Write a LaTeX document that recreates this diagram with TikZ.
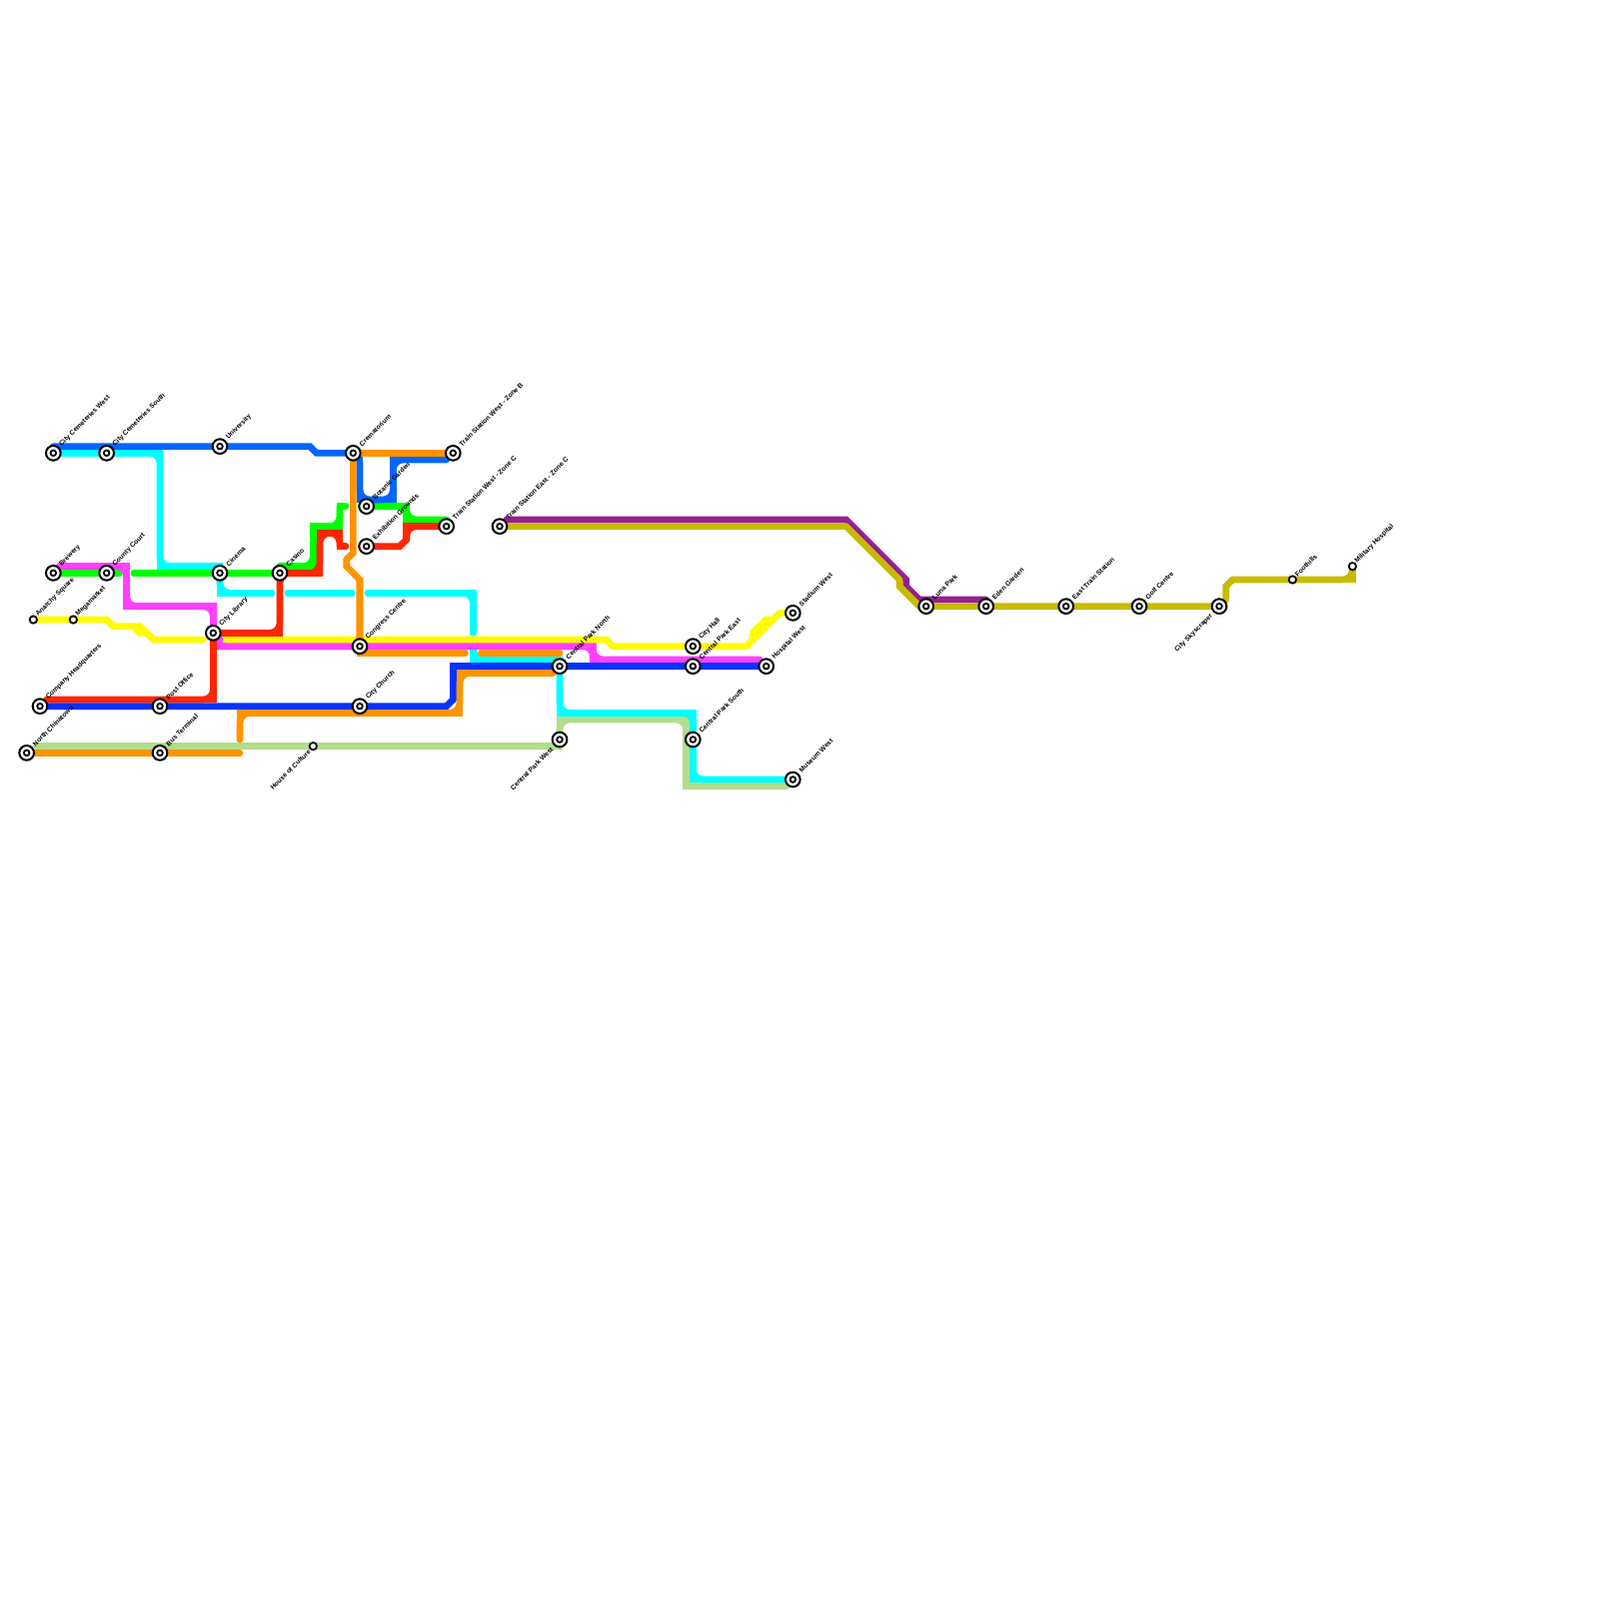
\documentclass[tikz,border=0pt]{standalone}
\usepackage{fontspec}
\setmainfont{Liberation Sans}
\definecolor{ldodger}{HTML}{0066FF}
\definecolor{lcyan}{HTML}{00FFFF}
\definecolor{lgreen}{HTML}{00FF00}
\definecolor{lmag}{HTML}{FF40FF}
\definecolor{lyellow}{HTML}{FFFB00}
\definecolor{lred}{HTML}{FF2600}
\definecolor{lblue}{HTML}{0433FF}
\definecolor{lorange}{HTML}{FF9300}
\definecolor{lpale}{HTML}{B1DD8C}
\definecolor{lpurple}{HTML}{942192}
\definecolor{lolive}{HTML}{C7BB00}
\tikzset{
  mt/.style={line width=1mm,line cap=round,line join=miter,miter limit=10},
  lbl/.style={font=\fontsize{2.85}{3}\bfseries,inner sep=0pt,rotate=45,text=black},
  bigst/.style={circle,fill=white,draw=black,line width=0.3mm,minimum size=2.2mm,inner sep=0pt,
    path picture={\draw[black,line width=0.27mm] (path picture bounding box.center) circle (0.42mm);}},
  smallst/.style={circle,fill=white,draw=black,line width=0.27mm,minimum size=1.1mm,inner sep=0pt},
}
% sharp line, and a line with cut inside corners
\newcommand\sline[2]{\draw[mt,draw=#1] #2;}
\newcommand\mline[2]{\draw[mt,draw=#1] #2; \draw[mt,draw=#1,rounded corners=1.5mm] #2;}
% station macros: name, position, label
\newcommand\bst[3]{\node[bigst] (#1) at #2 {}; \node[lbl,anchor=west] (#1-l) at ([xshift=1.05mm,yshift=1.15mm]#1.center) {#3};}
\newcommand\bstl[3]{\node[bigst] (#1) at #2 {}; \node[lbl,anchor=east] (#1-l) at ([xshift=-1.1mm,yshift=-1.3mm]#1.center) {#3};}
\newcommand\sst[3]{\node[smallst] (#1) at #2 {}; \node[lbl,anchor=west] (#1-l) at ([xshift=.5mm,yshift=.6mm]#1.center) {#3};}
\newcommand\sstl[3]{\node[smallst] (#1) at #2 {}; \node[lbl,anchor=east] (#1-l) at ([xshift=-.5mm,yshift=-.6mm]#1.center) {#3};}
\begin{document}
\begin{tikzpicture}[x=1mm,y=-1mm]
\useasboundingbox (0,0) rectangle (240,240);
\fill[white] (0,0) rectangle (240,240);
% station positions first, so lines can refer to them
\coordinate (ccw) at (8,68);
\coordinate (ccs) at (16,68);
\coordinate (univ) at (33,67);
\coordinate (crem) at (53,68);
\coordinate (tswb) at (68,68);
\coordinate (botg) at (55,76);
\coordinate (exhg) at (55,82);
\coordinate (tswc) at (67,79);
\coordinate (tsec) at (75,79);
\coordinate (casino) at (42,86);
\coordinate (cinema) at (33,86);
\coordinate (county) at (16,86);
\coordinate (brew) at (8,86);
\coordinate (anarchy) at (5,93);
\coordinate (mega) at (11,93);
\coordinate (clib) at (32,95);
\coordinate (cong) at (54,97);
\coordinate (chq) at (6,106);
\coordinate (post) at (24,106);
\coordinate (church) at (54,106);
\coordinate (nchina) at (4,113);
\coordinate (busT) at (24,113);
\coordinate (house) at (47,112);
\coordinate (cpw) at (84,111);
\coordinate (cpn) at (84,100);
\coordinate (chall) at (104,97);
\coordinate (cpe) at (104,100);
\coordinate (hosp) at (115,100);
\coordinate (stad) at (119,92);
\coordinate (cps) at (104,111);
\coordinate (mus) at (119,117);
\coordinate (luna) at (139,91);
\coordinate (eden) at (148,91);
\coordinate (east) at (160,91);
\coordinate (golf) at (171,91);
\coordinate (sky) at (183,91);
\coordinate (foot) at (194,87);
\coordinate (milit) at (203,85);
% pale green
\mline{lpale}{(5.5,112) -- (84,112) -- (84,108) -- (103,108) -- (103,118) -- (118,118)}
% cyan
\mline{lcyan}{(ccw) -- (24,68) -- (24,85) -- (33,85) -- (33,89) -- (40.8,89)}
\mline{lcyan}{(43.2,89) -- (52.8,89)}
\mline{lcyan}{(55.2,89) -- (71,89) -- (71,95)}
\mline{lcyan}{(71,97) -- (71,99) -- (84,99) -- (cpn) -- (84,107) -- (104,107) -- (104,117) -- (mus)}
% green
\mline{lgreen}{(brew) -- (17.9,86)}
\mline{lgreen}{(20.1,86) -- (casino)}
\mline{lgreen}{(42,85) -- (47,85) -- (47,79) -- (51,79) -- (51,76)}
\sline{lgreen}{(51,77) -- (51,76) -- (51.9,76)}
\mline{lgreen}{(54.2,76) -- (61,76) -- (61,78) -- (67,78)}
% dodger blue
\sline{ldodger}{(8,67) -- (46.5,67) -- (47.5,68) -- (crem)}
\mline{ldodger}{(crem) -- (54,68) -- (54,75) -- (59,75) -- (59,69) -- (67,69)}
% magenta
\mline{lmag}{(8.9,85) -- (19,85) -- (19,91) -- (32,91) -- (clib)}
\sline{lmag}{(clib) -- (33,96) -- (33,97) -- (89,97)}
\mline{lmag}{(33,97) -- (89,97) -- (89,99) -- (114,99)}
% yellow
\sline{lyellow}{(anarchy) -- (16,93) -- (17,94) -- (21,94) -- (23,96) -- (30.5,96)}
\sline{lyellow}{(20,94) -- (21,95) -- (22,95)}
\sline{lyellow}{(34,96) -- (91,96) -- (92,97) -- (112,97) -- (117,92) -- (stad)}
\sline{lyellow}{(113,96) -- (113,95) -- (115,93) -- (116,93)}
% red
\mline{lred}{(7,105) -- (32,105) -- (clib) -- (42,95) -- (casino) -- (48,86) -- (48,80) -- (51,80) -- (51,82)}
\sline{lred}{(51,81) -- (51,82) -- (51.9,82)}
\sline{lred}{(54.2,82) -- (60,82) -- (61,81) -- (61,79)}
\mline{lred}{(61,81) -- (61,79) -- (tswc)}
% blue
\sline{lblue}{(chq) -- (67,106) -- (68,105)}
\mline{lblue}{(68,105) -- (68,100) -- (hosp)}
% orange
\sline{lorange}{(crem) -- (tswb)}
\sline{lorange}{(crem) -- (53,83) -- (52,84) -- (52,85) -- (54,87) -- (54,98)}
\mline{lorange}{(54,87) -- (54,98) -- (69.8,98)}
\sline{lorange}{(72.2,98) -- (84,98)}
\mline{lorange}{(36,111) -- (36,107) -- (69,107) -- (69,101) -- (83,101)}
\sline{lorange}{(nchina) -- (36,113)}
% purple and olive
\sline{lpurple}{(76,78) -- (127,78) -- (136,87) -- (136,88) -- (138,90) -- (148,90)}
\sline{lolive}{(tsec) -- (127,79) -- (135,87) -- (135,88) -- (138,91) -- (sky)}
\sline{lolive}{(184,90) -- (184,88) -- (185,87)}
\mline{lolive}{(185,87) -- (203,87) -- (milit)}
% stations and labels
\bst{s1}{(ccw)}{City Cemeteries West}
\bst{s2}{(ccs)}{City Cemeteries South}
\bst{s3}{(univ)}{University}
\bst{s4}{(crem)}{Crematorium}
\bst{s5}{(tswb)}{Train Station West - Zone B}
\bst{s6}{(botg)}{Botanic Garden}
\bst{s7}{(exhg)}{Exhibition Grounds}
\bst{s8}{(tswc)}{Train Station West - Zone C}
\bst{s9}{(tsec)}{Train Station East - Zone C}
\bst{s10}{(casino)}{Casino}
\bst{s11}{(cinema)}{Cinema}
\bst{s12}{(county)}{County Court}
\bst{s13}{(brew)}{Brewery}
\sst{s14}{(anarchy)}{Anarchy Square}
\sst{s15}{(mega)}{Megamarket}
\bst{s16}{(clib)}{City Library}
\bst{s17}{(cong)}{Congress Centre}
\bst{s18}{(chq)}{Company Headquarters}
\bst{s19}{(post)}{Post Office}
\bst{s20}{(church)}{City Church}
\bst{s21}{(nchina)}{North Chinatown}
\bst{s22}{(busT)}{Bus Terminal}
\sstl{s23}{(house)}{House of Culture}
\bstl{s24}{(cpw)}{Central Park West}
\bst{s25}{(cpn)}{Central Park North}
\bst{s26}{(chall)}{City Hall}
\bst{s27}{(cpe)}{Central Park East}
\bst{s28}{(hosp)}{Hospital West}
\bst{s29}{(stad)}{Stadium West}
\bst{s30}{(cps)}{Central Park South}
\bst{s31}{(mus)}{Museum West}
\bst{s32}{(luna)}{Luna Park}
\bst{s33}{(eden)}{Eden Garden}
\bst{s34}{(east)}{East Train Station}
\bst{s35}{(golf)}{Golf Centre}
\bstl{s36}{(sky)}{City Skyscraper}
\sst{s37}{(foot)}{Foothills}
\sst{s38}{(milit)}{Military Hospital}
\end{tikzpicture}
\end{document}
